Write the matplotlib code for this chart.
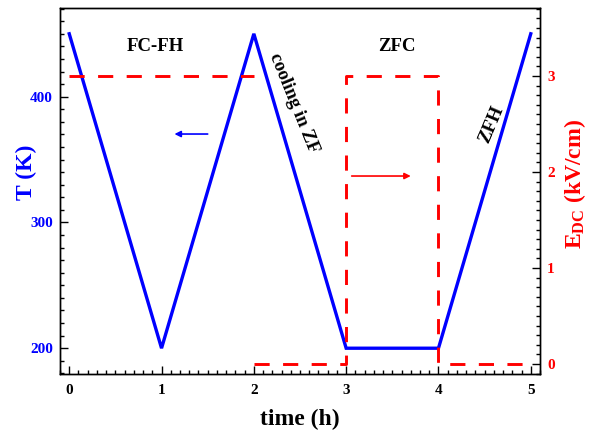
import numpy as np
import matplotlib
matplotlib.use("Agg")
import matplotlib.pyplot as plt
from matplotlib.ticker import MultipleLocator

plt.rcParams['font.family'] = ['Liberation Serif', 'DejaVu Serif']
plt.rcParams['font.weight'] = 'bold'
plt.rcParams['mathtext.fontset'] = 'custom'
plt.rcParams['mathtext.rm'] = 'Liberation Serif:bold'
plt.rcParams['mathtext.bf'] = 'Liberation Serif:bold'
plt.rcParams['mathtext.it'] = 'Liberation Serif:bold:italic'

# Temperature protocol (time in hours, T in kelvin)
time_T = [0, 1, 2, 3, 4, 5]
temperature = [450, 200, 450, 200, 200, 450]

# Applied DC field protocol (kV/cm); NaN breaks the line at t = 2 h
time_E = [0, 2, 2, 2, 3, 3, 4, 4, 5]
field = [3, 3, np.nan, 0, 0, 3, 3, 0, 0]

x_ticks = [0, 1, 2, 3, 4, 5]
T_ticks = [200, 300, 400]
E_ticks = [0, 1, 2, 3]

blue = '#0000ff'
red = '#ff0000'

fig = plt.figure(figsize=(5.95, 4.36), dpi=100)
ax = fig.add_axes([60 / 595, 1 - 374 / 436, 480 / 595, 366 / 436])
ax2 = ax.twinx()

ax.plot(time_T, temperature, color=blue, lw=2.4, solid_joinstyle='miter', zorder=3)
ax2.plot(time_E, field, color=red, lw=2.1, linestyle=(0, (5.2, 4.6)), zorder=3)

ax.set_xlim(-0.1, 5.1)
ax.set_ylim(179.5, 470.5)
ax2.set_ylim(-0.104, 3.708)

ax.set_xticks(x_ticks)
ax.set_yticks(T_ticks)
ax2.set_yticks(E_ticks)
ax.xaxis.set_minor_locator(MultipleLocator(0.1))
ax.yaxis.set_minor_locator(MultipleLocator(10))
ax2.yaxis.set_minor_locator(MultipleLocator(0.1))

for a in (ax, ax2):
    for s in a.spines.values():
        s.set_linewidth(1.0)
        s.set_color('black')

ax.tick_params(axis='x', which='both', direction='in', top=False, pad=7,
               labelsize=11, colors='black')
ax.tick_params(axis='y', which='both', direction='in', right=False, pad=5,
               labelsize=11, labelcolor=blue, color='black')
ax2.tick_params(axis='y', which='both', direction='in', left=False, pad=5,
                labelsize=11, labelcolor=red, color='black')
for a in (ax, ax2):
    a.tick_params(which='major', length=5.5, width=1.0)
    a.tick_params(which='minor', length=3, width=1.0)
for lab in ax.get_xticklabels() + ax.get_yticklabels() + ax2.get_yticklabels():
    lab.set_fontweight('bold')

ax.set_xlabel('time (h)', fontsize=17, fontweight='bold', labelpad=9)
ax.set_ylabel('T (K)', fontsize=17, fontweight='bold', color=blue)
ax2.set_ylabel(r'$\mathbf{E}_{\mathbf{DC}}$ (kV/cm)', fontsize=17,
               fontweight='bold', color=red)
ax.yaxis.set_label_coords(-0.069, 0.552)
ax.yaxis.label.set_va('center')
ax2.yaxis.set_label_coords(1.073, 0.52)
ax2.yaxis.label.set_va('center')

# Protocol annotations
ax.text(0.93, 439.5, 'FC-FH', fontsize=13.5, fontweight='bold', ha='center', va='center')
ax.text(3.55, 439.8, 'ZFC', fontsize=13.5, fontweight='bold', ha='center', va='center')
ax.text(2.43, 395, 'cooling in ZF', fontsize=13.5, fontweight='bold',
        ha='center', va='center', rotation=-68, rotation_mode='anchor')
ax.text(4.58, 377.5, 'ZFH', fontsize=13.5, fontweight='bold',
        ha='center', va='center', rotation=67, rotation_mode='anchor')

# Arrows indicating which axis each curve belongs to
ax.annotate('', xy=(1.14, 370.3), xytext=(1.50, 370.3),
            arrowprops=dict(arrowstyle='-|>', color=blue, lw=1.2,
                            mutation_scale=9, shrinkA=0, shrinkB=0))
ax2.annotate('', xy=(3.70, 1.958), xytext=(3.06, 1.958),
             arrowprops=dict(arrowstyle='-|>', color=red, lw=1.2,
                             mutation_scale=9, shrinkA=0, shrinkB=0))

fig.savefig('out.png', dpi=100)
